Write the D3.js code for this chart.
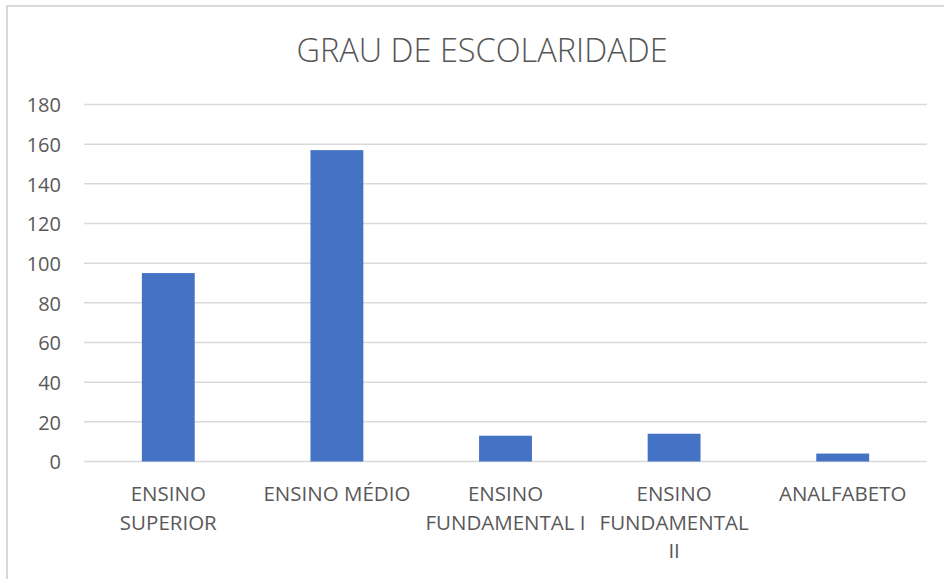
<!DOCTYPE html>
<meta charset="utf-8">
<style>
body { margin: 0; background: #fff; }
text { font-family: "Open Sans", sans-serif; fill: #595959; }
.grid line { stroke: #d9d9d9; stroke-width: 1.5px; }
.bar { fill: #4472c4; }
</style>
<body>
<script src="https://cdnjs.cloudflare.com/ajax/libs/d3/7.8.5/d3.min.js"></script>
<script>
// chart data
var categories = ["ENSINO SUPERIOR", "ENSINO MÉDIO", "ENSINO FUNDAMENTAL I", "ENSINO FUNDAMENTAL II", "ANALFABETO"];
var tickLabels = [["ENSINO", "SUPERIOR"], ["ENSINO MÉDIO"], ["ENSINO", "FUNDAMENTAL I"], ["ENSINO", "FUNDAMENTAL", "II"], ["ANALFABETO"]];
var values = [95, 157, 13, 14, 4];
var yTicks = [0, 20, 40, 60, 80, 100, 120, 140, 160, 180];
var title = "GRAU DE ESCOLARIDADE";

var W = 944, H = 579;
var margin = {top: 104.5, right: 17, bottom: 117.5, left: 84};
var width = W - margin.left - margin.right,
    height = H - margin.top - margin.bottom;

var svg = d3.select("body").append("svg")
    .attr("width", W)
    .attr("height", H);

// outer chart border (runs off the right and bottom edges)
svg.append("rect")
    .attr("x", 7).attr("y", 6)
    .attr("width", W + 20).attr("height", H + 20)
    .attr("fill", "none")
    .attr("stroke", "#d9d9d9")
    .attr("stroke-width", 2);

svg.append("text")
    .attr("x", 482)
    .attr("y", 62)
    .attr("text-anchor", "middle")
    .style("font-size", "32.5px")
    .style("font-weight", 300)
    .style("fill", "#555")
    .text(title);

var g = svg.append("g")
    .attr("transform", "translate(" + margin.left + "," + margin.top + ")");

var x = d3.scaleBand().domain(categories).range([0, width]).padding(0);
var y = d3.scaleLinear().domain([0, 180]).range([height, 0]);

// gridlines
g.append("g")
    .attr("class", "grid")
  .selectAll("line")
    .data(yTicks)
  .enter().append("line")
    .attr("x1", 0).attr("x2", width)
    .attr("y1", function(d) { return y(d); })
    .attr("y2", function(d) { return y(d); });

// y axis labels
var yAxis = g.append("g")
    .call(d3.axisLeft(y).tickValues(yTicks).tickSize(0).tickPadding(23));
yAxis.select(".domain").remove();
yAxis.selectAll("text")
    .style("font-size", "20px")
    .attr("fill", "#595959")
    .attr("dy", "0.36em");

// bars, Excel gap width ~219%
var barW = x.bandwidth() / 3.19;
g.selectAll(".bar")
    .data(values)
  .enter().append("rect")
    .attr("class", "bar")
    .attr("x", function(d, i) { return x(categories[i]) + (x.bandwidth() - barW) / 2; })
    .attr("width", barW)
    .attr("y", function(d) { return y(d); })
    .attr("height", function(d) { return height - y(d); });

// category labels
var xAxis = g.append("g")
    .attr("transform", "translate(0," + height + ")")
    .call(d3.axisBottom(x).tickSize(0).tickFormat(""));
xAxis.select(".domain").remove();
xAxis.selectAll(".tick").each(function(d, i) {
  var t = d3.select(this).append("text")
      .attr("text-anchor", "middle")
      .style("font-size", "20.5px")
      .attr("fill", "#595959");
  tickLabels[i].forEach(function(line, j) {
    t.append("tspan")
        .attr("x", 0)
        .attr("y", 39.5 + j * 28.5)
        .text(line);
  });
});
</script>
</body>
